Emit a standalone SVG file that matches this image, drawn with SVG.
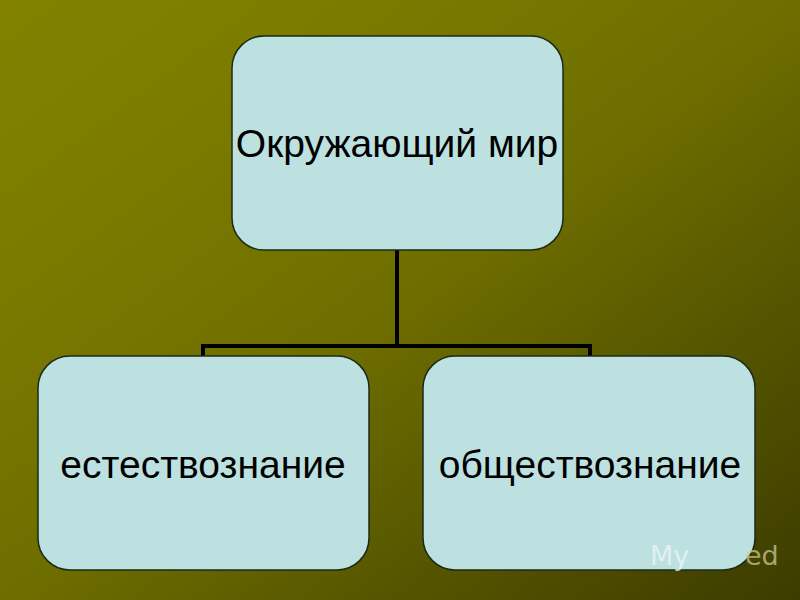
<svg xmlns="http://www.w3.org/2000/svg" width="800" height="600" viewBox="0 0 800 600">
<defs>
<linearGradient id="bg" gradientUnits="userSpaceOnUse" x1="0" y1="0" x2="576" y2="768">
<stop offset="0" stop-color="#828200"/>
<stop offset="0.25" stop-color="#7a7a00"/>
<stop offset="0.5" stop-color="#6e6e00"/>
<stop offset="0.75" stop-color="#545400"/>
<stop offset="1" stop-color="#3c3c00"/>
</linearGradient>
<style>
.box{fill:#bde1e1;stroke:#1c2a16;stroke-width:1.5}
.lbl{font-family:"Liberation Sans",Arial,sans-serif;font-size:39px;fill:#000;text-anchor:middle}
.wm{font-family:"DejaVu Sans",sans-serif;font-size:27px;opacity:0.75}
.con{fill:none;stroke:#000;stroke-width:4}
</style>
</defs>
<rect width="800" height="600" fill="url(#bg)"/>
<g id="connectors">
<path class="con" d="M397,250 V346 M203,356 V346 H590 V356"/>
</g>
<g id="node-top">
<rect class="box" x="232" y="36" width="331" height="214" rx="32"/>
<text class="lbl" x="397" y="157">Окружающий мир</text>
</g>
<g id="node-left">
<rect class="box" x="38" y="356" width="331" height="214" rx="32"/>
<text class="lbl" x="203" y="478">естествознание</text>
</g>
<g id="node-right">
<rect class="box" x="423" y="356" width="332" height="214" rx="32"/>
<text class="lbl" x="590" y="478">обществознание</text>
</g>
<text class="wm" x="650" y="565" fill="#eef6f6">My</text>
<text class="wm" x="745" y="565" fill="#c8c890">ed</text>
</svg>
